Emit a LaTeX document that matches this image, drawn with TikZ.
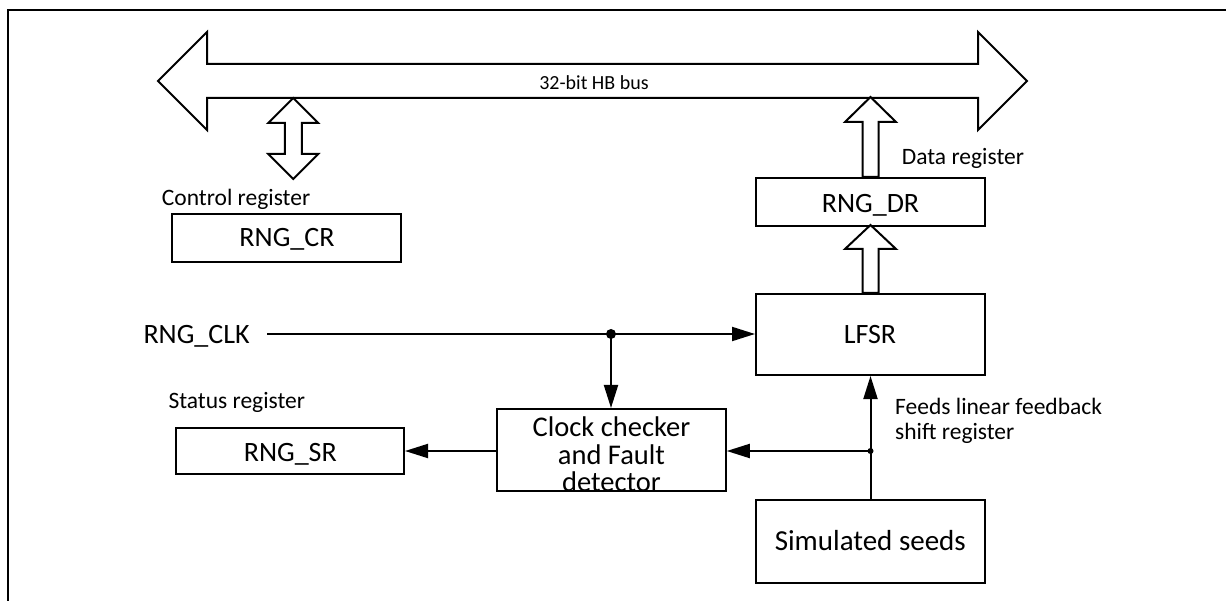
\documentclass[tikz,border=0pt]{standalone}
\usepackage{fontspec}
\setmainfont{Carlito}
\usetikzlibrary{arrows.meta,calc}
\tikzset{
  box/.style={draw, line width=2pt, minimum width=229pt, inner sep=0pt},
  lbl/.style={font=\fontsize{23.5}{26}\selectfont, inner sep=0pt, anchor=base west},
  boxtxt/.style={font=\fontsize{28}{30}\selectfont, inner sep=0pt, anchor=base},
  wire/.style={line width=2pt},
  arr/.style={line width=2pt, -{Triangle[length=23pt,width=14pt]}},
  blk/.style={line width=2pt, line join=miter, fill=white},
  dot/.style={circle, fill=black, inner sep=0pt, minimum size=#1}
}
\begin{document}
\begin{tikzpicture}[x=1pt,y=-1pt]
\useasboundingbox (0,0) rectangle (1226,601);
% frame
\draw[line width=2.5pt] (8,601) -- (8,10) -- (1226,10);
% bus
\draw[blk] (158,81) -- (207,32) -- (207,64) -- (978,64) -- (978,32) -- (1027,81)
  -- (978,130) -- (978,98) -- (207,98) -- (207,130) -- cycle;
\node[font=\fontsize{20}{22}\selectfont, inner sep=0pt, anchor=base] (bus) at (594,89.5) {32-bit HB bus};
% boxes
\node[box, minimum width=229pt, minimum height=48pt] (cr) at (286.5,238) {};
\node[boxtxt] (crt) at (287,246.7) {RNG\_CR};
\node[box, minimum width=229pt, minimum height=48pt] (dr) at (870.5,202) {};
\node[boxtxt] (drt) at (870.5,212.7) {RNG\_DR};
\node[box, minimum width=229pt, minimum height=81pt] (lfsr) at (870.5,334.5) {};
\node[boxtxt] (lfsrt) at (870,344) {LFSR};
\node[box, minimum width=228pt, minimum height=46pt] (sr) at (290,451) {};
\node[boxtxt] (srt) at (290.3,461.7) {RNG\_SR};
\node[box, minimum width=228.5pt, minimum height=82pt] (clock) at (611.5,450) {};
\node[font=\fontsize{28.5}{27.5}\selectfont, align=center, inner sep=0pt, text depth=0pt, anchor=south] (clockt) at (611.5,491.7) {Clock checker\\and Fault\\detector};
\node[box, minimum width=229pt, minimum height=83pt] (seeds) at (870.5,541) {};
\node[font=\fontsize{29}{30}\selectfont, inner sep=0pt, anchor=base] (seedst) at (870.3,550) {Simulated seeds};
% labels
\node[lbl] (crl) at (161.7,206) {Control register};
\node[lbl] (drl) at (901.7,165) {Data register};
\node[lbl] (srl) at (168.3,408.3) {Status register};
\node[font=\fontsize{28}{30}\selectfont, inner sep=0pt, anchor=base west] (clk) at (143.3,344) {RNG\_CLK};
\node[font=\fontsize{23.5}{24.3}\selectfont, align=left, inner sep=0pt, text depth=0pt, anchor=south west] (feed) at (895,439.3) {Feeds linear feedback\\shift register};
% block arrows
\coordinate (ctop) at (293.3,98);
\draw[blk] (ctop) -- ++(25,25) -- ++(-16.5,0) -- ++(0,31) -- ++(16.5,0) -- ++(-25,25)
  -- ++(-25,-25) -- ++(16.5,0) -- ++(0,-31) -- ++(-16.5,0) -- cycle;
\draw[blk] (dr.north) ++(-8,0) -- ++(0,-55) -- ++(-17.5,0) -- ++(25.5,-25) -- ++(25.5,25)
  -- ++(-17.5,0) -- ++(0,55) -- cycle;
\draw[blk] (lfsr.north) ++(-8,0) -- ++(0,-44) -- ++(-17.5,0) -- ++(25.5,-24) -- ++(25.5,24)
  -- ++(-17.5,0) -- ++(0,44) -- cycle;
% wires
\coordinate (clks) at (267,334);
\node[dot=10pt] (j1) at (611,334) {};
\node[dot=6pt] (j2) at (870.5,451) {};
\draw[wire] (clks) -- (j1.center);
\draw[arr] (j1.center) -- (j1.center -| lfsr.west);
\draw[arr] (j1.center) -- (j1.center |- clock.north);
\draw[wire] (seeds.north) -- (j2.center);
\draw[arr] (j2.center) -- (lfsr.south);
\draw[arr] (j2.center) -- (j2.center -| clock.east);
\draw[arr] (clock.west |- sr.east) -- (sr.east);
\end{tikzpicture}
\end{document}
